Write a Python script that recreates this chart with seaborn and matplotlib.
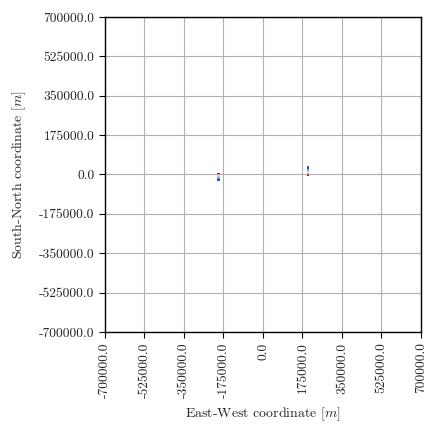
import numpy as np
import pandas as pd
import matplotlib
matplotlib.use("Agg")
import matplotlib.pyplot as plt
import seaborn as sns

# Tracks of the two bodies, coloured by step
body_a_x = [-197000] * 9
body_a_y = [0, -3000, -6000, -9000, -12000, -15000, -18000, -21000, -24000]
body_b_x = [199000] * 9
body_b_y = [0, 3700, 7500, 11200, 15000, 18700, 22500, 26200, 30000]
steps = [8, 7, 6, 5, 4, 3, 2, 1, 0]

tick_values = [-700000, -525000, -350000, -175000, 0, 175000, 350000, 525000, 700000]
tick_labels = ["-700000.0", "-525000.0", "-350000.0", "-175000.0", "0.0",
               "175000.0", "350000.0", "525000.0", "700000.0"]

df = pd.DataFrame({
    "x": body_a_x + body_b_x,
    "y": body_a_y + body_b_y,
    "step": steps + steps,
})

sns.set_style("ticks")
plt.rcParams["font.family"] = ["cmr10"]
plt.rcParams["mathtext.fontset"] = "cm"
plt.rcParams["axes.formatter.use_mathtext"] = True

fig = plt.figure(figsize=(4.27, 4.25), dpi=100)
ax = fig.add_axes([105 / 427, 1 - 332 / 425, 316 / 427, 315 / 425])

sns.scatterplot(data=df, x="x", y="y", hue="step", palette="coolwarm",
                s=4, marker="s", linewidth=0, legend=False, ax=ax)

ax.set_xlim(-700000, 700000)
ax.set_ylim(-700000, 700000)
ax.set_xticks(tick_values)
ax.set_xticklabels(tick_labels, rotation=90, fontsize=9.7)
ax.set_yticks(tick_values)
ax.set_yticklabels(tick_labels, fontsize=9.7)
ax.grid(True, color="#b0b0b0", linewidth=0.8)
ax.set_axisbelow(True)
for sp in ax.spines.values():
    sp.set_color("black")
    sp.set_linewidth(1.0)
ax.tick_params(direction="out", length=4, width=0.8, color="black", labelcolor="#222222")
ax.set_xlabel("East-West coordinate [$m$]", fontsize=10, labelpad=5)
ax.set_ylabel("South-North coordinate [$m$]", fontsize=10, labelpad=8)

fig.savefig("out.png", dpi=100)
